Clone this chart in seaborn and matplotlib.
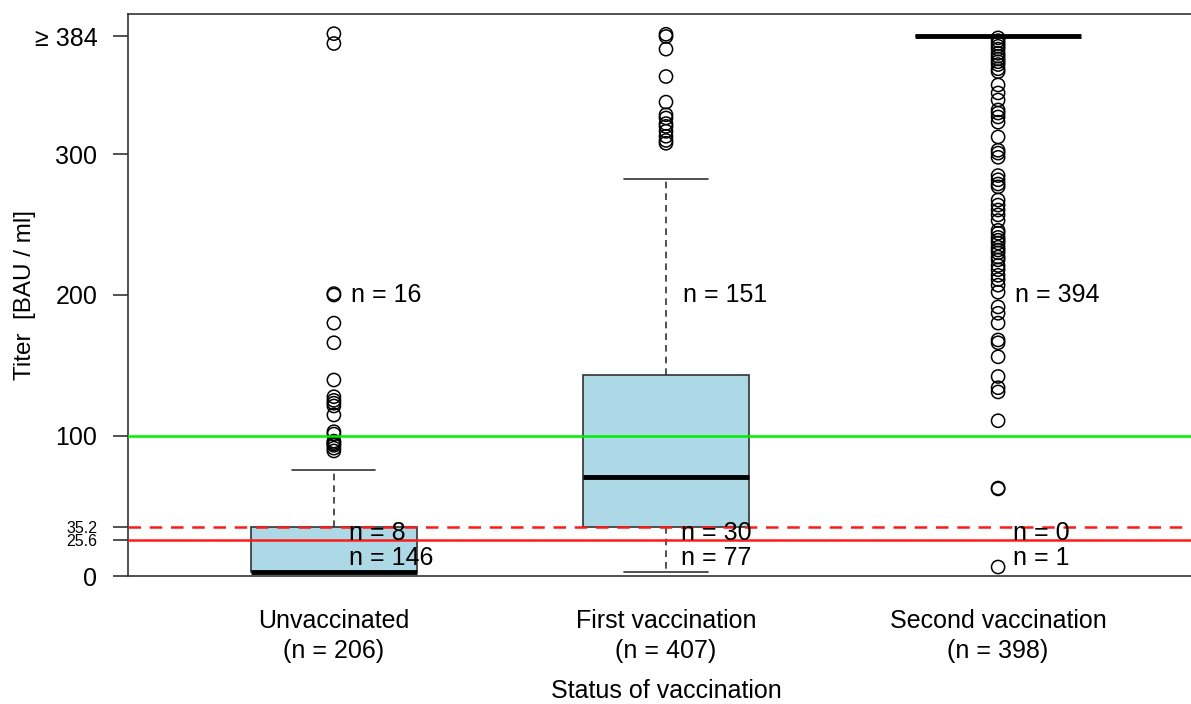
import numpy as np
import pandas as pd
import matplotlib
matplotlib.use("Agg")
import matplotlib.pyplot as plt
import seaborn as sns

groups = ["Unvaccinated", "First vaccination", "Second vaccination"]
group_n = [206, 407, 398]

# box summaries, BAU/ml
q1 = [3, 35.2, 384]
median = [3, 70.5, 384]
q3 = [35.2, 143, 384]
whisker_lo = [3, 3, 384]
whisker_hi = [75.4, 282.6, 384]

out_unvacc = [386, 379, 201, 200, 180, 166, 139.5, 127.6, 125, 123, 121,
              114.6, 102.7, 101, 96, 95, 94, 93, 91, 89]
out_first = [385.6, 384, 375, 355.5, 337.3, 328.3, 326, 322, 320, 316.5,
             313, 310, 308]
out_second = [383, 381, 379, 377, 375, 372, 370, 368, 366, 364, 361, 359,
              349.5, 343.8, 338.8, 331.7, 329.5, 326.7, 323, 312.5, 303, 301,
              298, 285, 282, 279, 277, 267.6, 264, 260.5, 257, 253, 246, 244,
              241, 239, 237, 234, 232, 230, 227, 225, 221, 218, 214, 211, 207,
              202, 191.5, 187, 180, 168, 166, 156, 142, 134, 131, 110.5,
              62.6, 62.0, 6.4]

# counts per titer band
n_high = [16, 151, 394]
n_mid = [8, 30, 0]
n_low = [146, 77, 1]

ref_levels = [25.6, 35.2, 100]
ytick_vals = [0, 25.6, 35.2, 100, 200, 300, 384]
ytick_labels = ["0", "25.6", "35.2", "100", "200", "300", "\u2265 384"]

sns.set_style("ticks")
plt.rcParams["font.family"] = ["Liberation Sans", "DejaVu Sans"]
for k in ["text.color", "axes.labelcolor", "xtick.color", "ytick.color"]:
    plt.rcParams[k] = "black"

fig = plt.figure(figsize=(11.91, 7.04), dpi=100)
ax = fig.add_axes([128 / 1191, 128 / 704, (1204 - 128) / 1191, (576 - 14) / 704])

stats = []
for i in range(3):
    stats.append(dict(q1=q1[i], med=median[i], q3=q3[i],
                      whislo=whisker_lo[i], whishi=whisker_hi[i], fliers=[]))

edge = "#333333"
ax.bxp(stats, positions=range(3), widths=0.5, capwidths=0.25,
       patch_artist=True, showfliers=False,
       boxprops=dict(facecolor="#ADD8E6", edgecolor=edge, linewidth=1.2),
       medianprops=dict(color="black", linewidth=3.5, solid_capstyle="butt"),
       whiskerprops=dict(color=edge, linestyle=(0, (4, 3)), linewidth=1.2),
       capprops=dict(color=edge, linewidth=1.2))

out_df = pd.DataFrame({
    "group": [groups[0]] * len(out_unvacc) + [groups[1]] * len(out_first)
             + [groups[2]] * len(out_second),
    "titer": out_unvacc + out_first + out_second,
})
sns.stripplot(data=out_df, x="group", y="titer", order=groups, jitter=False,
              size=9.5, marker="o", color="black", facecolor="none",
              edgecolor="black", linewidth=1.1, native_scale=False, ax=ax)

ax.axhline(ref_levels[2], color="#00EE00", linewidth=1.8, zorder=4)
ax.axhline(ref_levels[1], color="#FF1A1A", linewidth=1.8,
           linestyle=(0, (5, 3.5)), zorder=4)
ax.axhline(ref_levels[0], color="#FF1A1A", linewidth=1.8, zorder=4)

for i in range(3):
    ax.text(i + 0.05, 200, f"n = {n_high[i]}", fontsize=18, va="center", ha="left", zorder=5)
    ax.text(i + 0.045, 30.5, f"n = {n_mid[i]}", fontsize=18, va="center", ha="left", zorder=5)
    ax.text(i + 0.045, 12.5, f"n = {n_low[i]}", fontsize=18, va="center", ha="left", zorder=5)

ax.set_xlim(-0.62, 2.62)
ax.set_ylim(0, 400)
ax.set_xticks(range(3))
ax.set_xticklabels([f"{g}\n(n = {n})" for g, n in zip(groups, group_n)],
                   fontsize=18, linespacing=1.3)
ax.tick_params(axis="x", length=0, pad=24)
ax.set_yticks(ytick_vals)
ax.set_yticklabels(ytick_labels, fontsize=18)
for lab in ax.get_yticklabels():
    if lab.get_text() in ("25.6", "35.2"):
        lab.set_fontsize(11.5)
ax.tick_params(axis="y", length=11, width=1.2, pad=11, color=edge)

ax.set_xlabel("Status of vaccination", fontsize=18, va="center")
ax.xaxis.set_label_coords((666 - 128) / 1076, (576 - 691) / 562)
ax.set_ylabel("Titer  [BAU / ml]", fontsize=17.5, va="center")
ax.yaxis.set_label_coords((25 - 128) / 1076, (576 - 295) / 562)
for s in ax.spines.values():
    s.set_color(edge)
    s.set_linewidth(1.2)

fig.savefig("out.png", dpi=100)
